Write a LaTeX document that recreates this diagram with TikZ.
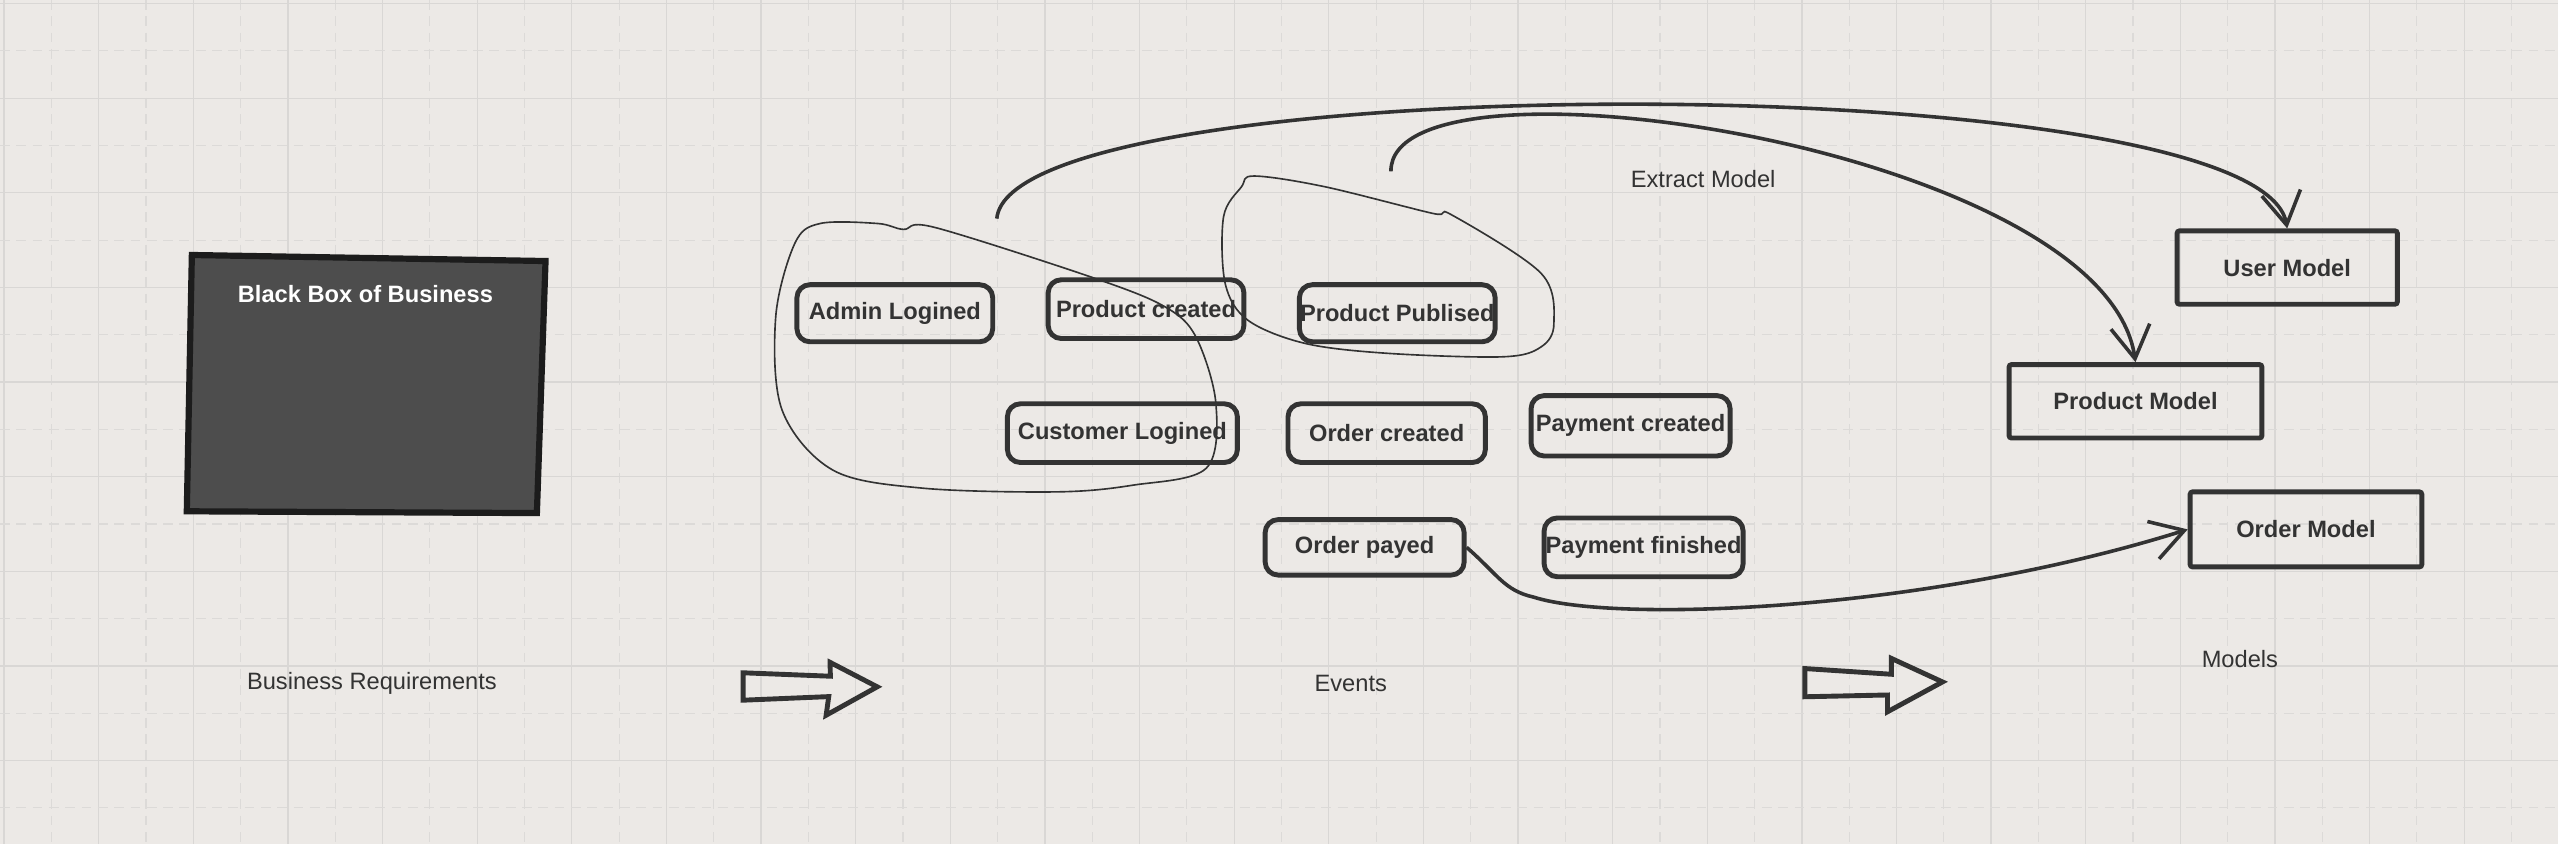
\documentclass[tikz,border=0pt]{standalone}
\usepackage{fontspec}
\setmainfont{Liberation Sans}
\usetikzlibrary{arrows.meta}
\definecolor{bg}{HTML}{ECE9E6}
\definecolor{gridmaj}{HTML}{D9D7D5}
\definecolor{gridmin}{HTML}{DCDAD8}
\definecolor{ink}{HTML}{333333}
\definecolor{boxfill}{HTML}{4D4D4D}
\definecolor{boxline}{HTML}{1C1C1C}
\begin{document}
\begin{tikzpicture}[x=1pt,y=-1pt,
 evt/.style={draw=ink, line width=3pt, rounded corners=8pt, inner sep=0pt, font=\fontsize{14.5}{16}\selectfont\bfseries, text=ink},
 mdl/.style={draw=ink, line width=3pt, rounded corners=1.5pt, inner sep=0pt, font=\fontsize{14.5}{16}\selectfont\bfseries, text=ink},
 lbl/.style={inner sep=0pt, font=\fontsize{14.5}{16}\selectfont, text=ink},
 lasso/.style={draw=ink, line width=1pt},
 flow/.style={draw=ink, line width=2.2pt, -{Straight Barb[length=20pt,width=24pt]}},
 blockarrow/.style={draw=ink, line width=3pt, line join=miter},
 gmaj/.style={draw=gridmaj, line width=0.8pt},
 gmin/.style={draw=gridmin, line width=0.7pt, dash pattern=on 6pt off 4pt},
]
\fill[bg] (0,0) rectangle (1568,517.4);
\useasboundingbox (0,0) rectangle (1568,517.4);
% grid
\foreach \i in {0,...,27} {
  \draw[gmaj] ({2.5+58*\i},0) -- ++(0,517.4);
  \draw[gmin] ({31.5+58*\i},0) -- ++(0,517.4);
}
\foreach \j in {0,...,8} {
  \draw[gmaj] (0,{2.2+58*\j}) -- ++(1568,0);
  \draw[gmin] (0,{31.2+58*\j}) -- ++(1568,0);
}
% black box
\filldraw[fill=boxfill, draw=boxline, line width=3.8pt, line join=miter]
  (117.6,156.3) -- (334.4,160) -- (329.1,314.5) -- (114.5,313.4) -- cycle;
\node[inner sep=0pt, text=white, font=\fontsize{14.5}{16}\selectfont\bfseries] (bb) at (224,180) {Black Box of Business};
% events
\node[evt, minimum width=120pt, minimum height=35pt] (adm) at (548.5,192) {Admin Logined};
\node[evt, minimum width=120pt, minimum height=36pt] (pc) at (702.5,189.5) {Product created};
\node[evt, minimum width=120pt, minimum height=35pt] (pp) at (856.5,192) {Product Publised};
\node[evt, minimum width=141pt, minimum height=36pt] (cl) at (688,265.5) {Customer Logined};
\node[evt, minimum width=121pt, minimum height=36pt] (oc) at (850,265.5) {Order created};
\node[evt, minimum width=122pt, minimum height=37pt] (pcr) at (999.5,261) {Payment created};
\node[evt, minimum width=122pt, minimum height=34pt] (op) at (836.5,335.5) {Order payed};
\node[evt, minimum width=122pt, minimum height=36pt] (pf) at (1007.5,335.5) {Payment finished};
% models
\node[mdl, minimum width=135pt, minimum height=45pt] (um) at (1402,164) {User Model};
\node[mdl, minimum width=155pt, minimum height=45pt] (pm) at (1309,246) {Product Model};
\node[mdl, minimum width=142pt, minimum height=46pt] (om) at (1413.5,324.5) {Order Model};
% labels
\node[lbl] (ext) at (1044,110) {Extract Model};
\node[lbl] (breq) at (228,419) {Business Requirements};
\node[lbl] (evts) at (828,419) {Events};
\node[lbl] (mdls) at (1373,404) {Models};
% lassos
\draw[lasso] plot[smooth cycle, tension=0.55] coordinates {
  (573,139.4) (670.8,170.5) (714,188) (733,206.4) (745.3,247.2) (739.4,287)
  (694.4,297.4) (647.5,301.5) (565.3,299.2) (510.6,288.2) (479.4,251.4)
  (475.5,194.2) (487.2,149.2) (502.7,137) (538,137) (553.7,140.6)};
\draw[lasso] plot[smooth cycle, tension=0.55] coordinates {
  (768.7,107.9) (811.8,114.4) (878.2,130.8) (890,131.8) (944.7,167.6) (952.5,198.2)
  (944.7,212.6) (921.3,218.7) (850.9,216.6) (800,210.5) (764.8,196.2)
  (751,173.7) (750,132.9) (761,114.5)};
% block arrows
\draw[blockarrow] (455.5,412.4) -- (509,414.5) -- (508.8,406) -- (537.7,421) -- (506.4,438.4) -- (508,427) -- (455.5,429.2) -- cycle;
\draw[blockarrow] (1106.3,409.8) -- (1159.4,413.3) -- (1159.4,403.6) -- (1190.7,418) -- (1157,436.3) -- (1157,426) -- (1106.3,427.1) -- cycle;
% flows
\coordinate (s1) at (611,134);
\coordinate (s2) at (852.6,105);
\coordinate (k3) at (940,366);
\draw[flow] (s1) .. controls (620,40) and (1385,40) .. (um.north);
\draw[flow] (s2) .. controls (852,25) and (1290,90) .. (pm.north);
\draw[flow] (op.east) .. controls (918,352) and (922,362) .. (k3) .. controls (990,382) and (1180,375) .. (om.west);
\end{tikzpicture}
\end{document}
